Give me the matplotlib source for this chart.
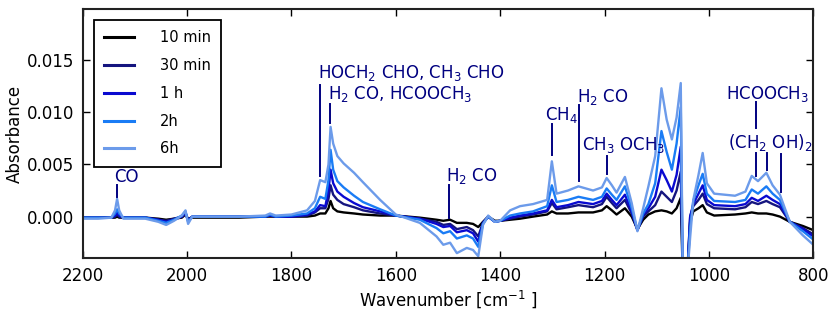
import matplotlib
matplotlib.use("Agg")
import matplotlib.pyplot as plt
from matplotlib.ticker import FormatStrFormatter

wavenumber = [
    2200, 2170, 2145, 2138, 2134, 2130, 2122, 2080, 2055, 2040, 2025,
    2010, 2003, 1998, 1990, 1960, 1900, 1850, 1841, 1830, 1800, 1770,
    1755, 1745, 1735, 1729, 1725, 1720, 1712, 1700, 1680, 1663, 1630,
    1600, 1554, 1522, 1509, 1496, 1483, 1464, 1452, 1442, 1433, 1423,
    1410, 1400, 1381, 1362, 1337, 1310, 1301, 1292, 1270, 1250, 1222,
    1205, 1196, 1186, 1177, 1161, 1148, 1137, 1126, 1116, 1103, 1091,
    1081, 1071, 1062, 1054, 1050, 1042, 1036, 1030, 1020, 1012, 1004,
    990, 950, 930, 918, 906, 890, 878, 864, 845, 820, 800,
]

abs_10min = [
    -0.0001, -0.0001, -0.0001, -0.0001, 0.0000, -0.0001, -0.0001, -0.0001, -0.0002, -0.0003, -0.0002,
    -0.0001, 0.0002, -0.0002, -0.0001, -0.0001, -0.0001, 0.0000, 0.0000, 0.0000, 0.0000, 0.0000,
    0.0001, 0.0003, 0.0003, 0.0008, 0.0015, 0.0008, 0.0005, 0.0004, 0.0003, 0.0002, 0.0001,
    0.0001, -0.0001, -0.0003, -0.0004, -0.0003, -0.0006, -0.0006, -0.0007, -0.0010, -0.0005, 0.0000,
    -0.0004, -0.0004, -0.0003, -0.0002, 0.0000, 0.0002, 0.0005, 0.0003, 0.0003, 0.0004, 0.0004,
    0.0006, 0.0010, 0.0006, 0.0002, 0.0008, 0.0000, -0.0012, -0.0003, 0.0002, 0.0005, 0.0006,
    0.0005, 0.0003, 0.0008, 0.0018, -0.0060, -0.0060, -0.0005, 0.0005, 0.0008, 0.0011, 0.0004,
    0.0001, 0.0002, 0.0003, 0.0004, 0.0003, 0.0003, 0.0002, 0.0000, -0.0005, -0.0009, -0.0013,
]

abs_30min = [
    -0.0001, -0.0001, -0.0001, 0.0000, 0.0002, 0.0000, -0.0001, -0.0001, -0.0003, -0.0004, -0.0002,
    0.0000, 0.0003, -0.0003, 0.0000, 0.0000, 0.0000, 0.0000, 0.0001, 0.0000, 0.0000, 0.0001,
    0.0004, 0.0008, 0.0008, 0.0017, 0.0030, 0.0021, 0.0016, 0.0012, 0.0009, 0.0006, 0.0003,
    0.0001, -0.0002, -0.0005, -0.0008, -0.0007, -0.0012, -0.0010, -0.0013, -0.0019, -0.0006, 0.0000,
    -0.0005, -0.0004, -0.0002, 0.0000, 0.0002, 0.0005, 0.0013, 0.0007, 0.0009, 0.0011, 0.0009,
    0.0012, 0.0019, 0.0013, 0.0008, 0.0016, 0.0003, -0.0013, 0.0000, 0.0005, 0.0011, 0.0024,
    0.0019, 0.0014, 0.0025, 0.0043, -0.0060, -0.0060, 0.0000, 0.0010, 0.0016, 0.0022, 0.0012,
    0.0008, 0.0007, 0.0009, 0.0014, 0.0012, 0.0015, 0.0012, 0.0009, -0.0005, -0.0011, -0.0017,
]

abs_1h = [
    -0.0001, -0.0001, -0.0001, 0.0001, 0.0004, 0.0001, -0.0001, -0.0001, -0.0003, -0.0005, -0.0003,
    0.0000, 0.0004, -0.0004, 0.0000, 0.0000, 0.0000, 0.0000, 0.0001, 0.0000, 0.0000, 0.0002,
    0.0005, 0.0011, 0.0010, 0.0025, 0.0045, 0.0032, 0.0024, 0.0019, 0.0013, 0.0009, 0.0005,
    0.0001, -0.0002, -0.0007, -0.0010, -0.0009, -0.0015, -0.0013, -0.0016, -0.0024, -0.0006, 0.0000,
    -0.0005, -0.0004, -0.0001, 0.0001, 0.0003, 0.0006, 0.0016, 0.0009, 0.0011, 0.0014, 0.0012,
    0.0015, 0.0022, 0.0016, 0.0011, 0.0021, 0.0005, -0.0013, 0.0002, 0.0008, 0.0019, 0.0045,
    0.0035, 0.0024, 0.0040, 0.0067, -0.0060, -0.0060, 0.0000, 0.0012, 0.0022, 0.0030, 0.0016,
    0.0011, 0.0010, 0.0012, 0.0018, 0.0015, 0.0020, 0.0016, 0.0012, -0.0005, -0.0012, -0.0019,
]

abs_2h = [
    -0.0001, -0.0001, -0.0001, 0.0003, 0.0007, 0.0003, -0.0001, -0.0001, -0.0004, -0.0006, -0.0003,
    0.0001, 0.0005, -0.0005, 0.0000, 0.0000, 0.0000, 0.0000, 0.0002, 0.0000, 0.0001, 0.0003,
    0.0008, 0.0019, 0.0017, 0.0035, 0.0064, 0.0045, 0.0034, 0.0028, 0.0020, 0.0014, 0.0007,
    0.0001, -0.0003, -0.0011, -0.0016, -0.0014, -0.0021, -0.0018, -0.0021, -0.0029, -0.0007, 0.0000,
    -0.0005, -0.0004, 0.0001, 0.0003, 0.0005, 0.0010, 0.0030, 0.0014, 0.0016, 0.0019, 0.0016,
    0.0019, 0.0027, 0.0021, 0.0016, 0.0029, 0.0008, -0.0013, 0.0003, 0.0012, 0.0032, 0.0082,
    0.0062, 0.0045, 0.0070, 0.0105, -0.0060, -0.0060, -0.0010, 0.0015, 0.0030, 0.0041, 0.0022,
    0.0015, 0.0014, 0.0016, 0.0026, 0.0022, 0.0029, 0.0022, 0.0016, -0.0005, -0.0014, -0.0022,
]

abs_6h = [
    -0.0002, -0.0002, -0.0001, 0.0006, 0.0017, 0.0006, -0.0002, -0.0002, -0.0005, -0.0008, -0.0004,
    0.0001, 0.0006, -0.0007, 0.0000, 0.0000, 0.0000, 0.0001, 0.0003, 0.0001, 0.0002, 0.0006,
    0.0015, 0.0035, 0.0033, 0.0050, 0.0086, 0.0070, 0.0058, 0.0051, 0.0042, 0.0033, 0.0016,
    0.0002, -0.0006, -0.0019, -0.0027, -0.0025, -0.0035, -0.0030, -0.0032, -0.0038, -0.0008, 0.0001,
    -0.0005, -0.0004, 0.0006, 0.0010, 0.0012, 0.0016, 0.0053, 0.0022, 0.0025, 0.0029, 0.0025,
    0.0028, 0.0037, 0.0030, 0.0023, 0.0038, 0.0013, -0.0014, 0.0008, 0.0029, 0.0058, 0.0123,
    0.0093, 0.0074, 0.0095, 0.0128, -0.0060, -0.0060, -0.0020, 0.0016, 0.0040, 0.0061, 0.0032,
    0.0022, 0.0020, 0.0024, 0.0039, 0.0034, 0.0042, 0.0030, 0.0021, -0.0005, -0.0018, -0.0027,
]

labels = ["10 min", "30 min", "1 h", "2h", "6h"]
colors = ["black", "#15157f", "#0a0ad0", "#1a7cf5", "#6c9bea"]

# peak assignments: (text, text x, text y, [(line x, y0, y1), ...])
annotations = [
    ("CO", 2140, 0.0033, [(2134, 0.0019, 0.0030)]),
    ("HOCH$_2$ CHO, CH$_3$ CHO", 1749, 0.0133, [(1745, 0.0039, 0.0126)]),
    ("H$_2$ CO, HCOOCH$_3$", 1730, 0.0113, [(1726, 0.0090, 0.0108)]),
    ("H$_2$ CO", 1503, 0.0034, [(1498, -0.0001, 0.0030)]),
    ("CH$_4$", 1315, 0.0093, [(1301, 0.0059, 0.0089)]),
    ("H$_2$ CO", 1253, 0.0110, [(1249, 0.0034, 0.0107)]),
    ("CH$_3$ OCH$_3$", 1244, 0.0064, [(1195, 0.0041, 0.0058)]),
    ("HCOOCH$_3$", 968, 0.0113, [(910, 0.0085, 0.0110)]),
    ("(CH$_2$ OH)$_2$", 963, 0.0066,
     [(910, 0.0039, 0.0061), (889, 0.0045, 0.0061), (861, 0.0024, 0.0060)]),
]

series = [abs_10min, abs_30min, abs_1h, abs_2h, abs_6h]
for s in series:
    assert len(s) == len(wavenumber)

plt.rcParams["font.family"] = "DejaVu Sans"
plt.rcParams["font.size"] = 12

fig = plt.figure(figsize=(8.3, 3.12), dpi=100)
ax = fig.add_axes([0.0996, 0.172, 0.8803, 0.7992])

for vals, lab, col in zip(series, labels, colors):
    ax.plot(wavenumber, vals, color=col, lw=1.7, label=lab)

for text, tx, ty, lines in annotations:
    ax.text(tx, ty, text, color="navy", fontsize=12, ha="left", va="baseline")
    for lx, y0, y1 in lines:
        ax.plot([lx, lx], [y0, y1], color="navy", lw=1.4)

ax.set_xlim(2200, 800)
ax.set_ylim(-0.004, 0.0199)
ax.set_xticks([2200, 2000, 1800, 1600, 1400, 1200, 1000, 800])
ax.set_yticks([0.0, 0.005, 0.010, 0.015])
ax.yaxis.set_major_formatter(FormatStrFormatter("%.3f"))
ax.tick_params(direction="in", top=True, right=True, length=5, width=1,
               labelsize=12, pad=6)
for sp in ax.spines.values():
    sp.set_linewidth(1.5)
    sp.set_color("#222222")

ax.set_xlabel("Wavenumber [cm$^{-1}$ ]", fontsize=12, labelpad=3)
ax.set_ylabel("Absorbance", fontsize=12, labelpad=2)

leg = ax.legend(loc="upper left", fontsize=10.5, fancybox=False, framealpha=1,
                edgecolor="black", handlelength=2.1, handletextpad=1.75,
                labelspacing=0.88, borderpad=0.7, borderaxespad=0.75)
leg.get_frame().set_linewidth(1.3)
for h in leg.get_lines():
    h.set_linewidth(2.2)

plt.savefig("out.png", dpi=100)
